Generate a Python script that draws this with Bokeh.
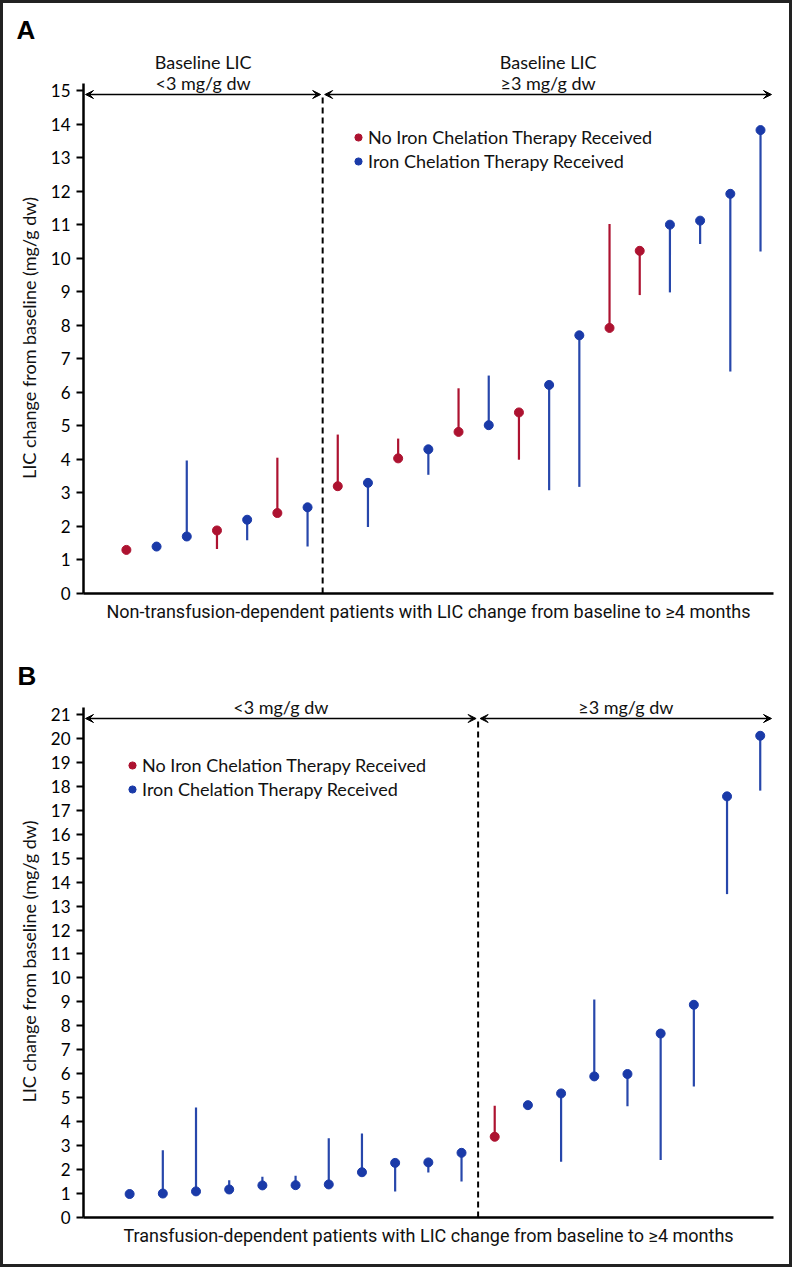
import math
from bokeh.plotting import figure
from bokeh.layouts import column, row
from bokeh.models import (ColumnDataSource, Range1d, Legend, LegendItem, Label,
                          Arrow, VeeHead, FixedTicker)
from bokeh.embed import file_html
from bokeh.resources import INLINE

RED = "#ad1230"
BLUE = "#1a3aa8"
STEM_BLUE = "#2747ab"

# ---------------- Data: Panel A (non-transfusion-dependent) ----------------
a_value = [1.30, 1.40, 1.70, 1.88, 2.20, 2.40, 2.57, 3.20, 3.30, 4.03, 4.30,
           4.82, 5.02, 5.40, 6.22, 7.70, 7.92, 10.22, 11.00, 11.12, 11.92, 13.82]
a_end = [1.30, 1.40, 3.97, 1.33, 1.59, 4.05, 1.40, 4.74, 1.98, 4.62, 3.54,
         6.12, 6.50, 3.99, 3.08, 3.18, 11.02, 8.90, 8.98, 10.42, 6.62, 10.20]
a_treated = [0, 1, 1, 0, 1, 0, 1, 0, 1, 0, 1, 0, 1, 0, 1, 1, 0, 0, 1, 1, 1, 1]
a_n_low = 7  # patients with baseline LIC < 3 mg/g dw

# ---------------- Data: Panel B (transfusion-dependent) ----------------
b_value = [0.98, 1.00, 1.09, 1.17, 1.34, 1.35, 1.38, 1.89, 2.28, 2.30, 2.70,
           3.37, 4.69, 5.18, 5.89, 5.99, 7.68, 8.88, 17.58, 20.11]
b_end = [0.98, 2.81, 4.59, 1.56, 1.70, 1.74, 3.31, 3.51, 1.09, 1.88, 1.50,
         4.66, 4.69, 2.33, 9.10, 4.64, 2.40, 5.47, 13.50, 17.82]
b_treated = [1, 1, 1, 1, 1, 1, 1, 1, 1, 1, 1, 0, 1, 1, 1, 1, 1, 1, 1, 1]
b_n_low = 11

legend_labels = ["No Iron Chelation Therapy Received", "Iron Chelation Therapy Received"]
a_ticks = list(range(0, 16))
b_ticks = list(range(0, 22))
a_headings = ["Baseline LIC\n<3 mg/g dw", "Baseline LIC\n≥3 mg/g dw"]
b_headings = ["<3 mg/g dw", "≥3 mg/g dw"]
a_xlabel = "Non-transfusion-dependent patients with LIC change from baseline to ≥4 months"
b_xlabel = "Transfusion-dependent patients with LIC change from baseline to ≥4 months"
y_label = "LIC change from baseline (mg/g dw)"

FONT = "Lato"
NARROW = "Roboto"
AXIS_PX = 510   # pixel height of the y-axis line
STRIP_W = 40    # left strip holding the panel letter and the y-axis title


def make_strip(letter, height, bt, bb, letter_xy, ylab_xy):
    # strip frame spans the same rows as the panel frame; y measured downward (negated)
    top = -bt
    bottom = -(height - bb)
    s = figure(width=STRIP_W, height=height, output_backend="svg", toolbar_location=None,
               title=None,
               x_range=Range1d(0, STRIP_W), y_range=Range1d(bottom, top),
               x_axis_location=None, y_axis_location=None,
               min_border_left=0, min_border_right=0, min_border_top=bt, min_border_bottom=bb)
    s.outline_line_color = None
    s.xgrid.visible = False
    s.ygrid.visible = False
    s.add_layout(Label(x=letter_xy[0], y=-letter_xy[1], text=letter, text_align="left",
                       text_baseline="alphabetic", text_font="Liberation Sans",
                       text_font_style="bold", text_font_size="26px", text_color="black"))
    s.add_layout(Label(x=ylab_xy[0], y=-ylab_xy[1], text=y_label, angle=math.pi / 2,
                       text_align="center", text_baseline="middle", text_font=FONT,
                       text_font_size="18px", text_color="#111"))
    return s


def make_panel(values, ends, treated, n_low, ticks, headings, xlabel,
               width, height, bl, br, bb, extra, xr, axis_top, legend_loc):
    ppy = AXIS_PX / axis_top
    y_end = axis_top + extra / ppy
    bt = height - bb - AXIS_PX - extra
    p = figure(width=width, height=height, output_backend="svg", toolbar_location=None,
               title=None,
               x_range=Range1d(*xr), y_range=Range1d(0, y_end),
               min_border_left=bl, min_border_top=bt, min_border_right=br, min_border_bottom=bb)
    p.outline_line_color = None
    p.xgrid.visible = False
    p.ygrid.visible = False
    p.background_fill_color = "white"
    p.border_fill_color = "white"

    fw = width - bl - br
    ppx = fw / (xr[1] - xr[0])

    x = list(range(len(values)))
    scols = [STEM_BLUE if t else RED for t in treated]
    src = ColumnDataSource(dict(x=x, v=values, e=ends, sc=scols))
    p.segment(x0="x", y0="v", x1="x", y1="e", line_color="sc", line_width=2.2, source=src)

    rends = []
    for grp in (0, 1):
        idx = [i for i, t in enumerate(treated) if t == grp]
        s = ColumnDataSource(dict(x=[x[i] for i in idx], v=[values[i] for i in idx]))
        r = p.scatter("x", "v", size=9, color=(BLUE if grp else RED), source=s)
        rends.append(r)

    split = n_low - 0.5
    arrow_y = axis_top - 11 / ppy
    p.segment(x0=[split], y0=[0], x1=[split], y1=[arrow_y], line_color="black",
              line_width=2, line_dash="6 4")

    head = dict(size=8, fill_color="black", line_color="black")
    gap = 2 / ppx
    p.add_layout(Arrow(x_start=xr[0] + gap, y_start=arrow_y, x_end=split - gap, y_end=arrow_y,
                       start=VeeHead(**head), end=VeeHead(**head), line_width=1.6))
    p.add_layout(Arrow(x_start=split + gap, y_start=arrow_y, x_end=xr[1] - gap, y_end=arrow_y,
                       start=VeeHead(**head), end=VeeHead(**head), line_width=1.6))

    centers = [(xr[0] + split) / 2, (split + xr[1]) / 2]
    for cx, txt in zip(centers, headings):
        lines = txt.split("\n")
        for k, line in enumerate(reversed(lines)):
            p.add_layout(Label(x=cx, y=axis_top + (1 + 20.5 * k) / ppy, text=line,
                               text_align="center", text_baseline="alphabetic",
                               text_font=FONT, text_font_size="18px", text_color="#111"))

    ya = p.yaxis[0]
    ya.bounds = (0, axis_top)
    ya.ticker = FixedTicker(ticks=ticks)
    ya.minor_tick_line_color = None
    ya.major_tick_out = 7
    ya.major_tick_in = 0
    ya.major_tick_line_width = 2
    ya.axis_line_width = 2.5
    ya.major_label_standoff = 6
    ya.major_label_text_font = FONT
    ya.major_label_text_font_size = "17px"
    ya.major_label_text_color = "black"

    xa = p.xaxis[0]
    xa.ticker = FixedTicker(ticks=[])
    xa.minor_tick_line_color = None
    xa.major_tick_out = 0
    xa.major_tick_in = 0
    xa.major_label_standoff = 0
    xa.axis_line_width = 2.5
    xa.axis_label = xlabel
    xa.axis_label_text_font = NARROW
    xa.axis_label_text_font_size = "18px"
    xa.axis_label_text_font_style = "normal"
    xa.axis_label_text_color = "#111"
    xa.axis_label_standoff = 7

    leg = Legend(items=[LegendItem(label=legend_labels[0], renderers=[rends[0]]),
                        LegendItem(label=legend_labels[1], renderers=[rends[1]])],
                 location=legend_loc, orientation="vertical",
                 glyph_width=18, glyph_height=18, label_standoff=1, spacing=2,
                 padding=0, margin=0, border_line_color=None, background_fill_alpha=0,
                 label_text_font=FONT, label_text_font_size="18px", label_text_color="#111")
    p.add_layout(leg, "center")
    return p, bt


# Panel A: figure covers page rows 3..625, panel B rows 625..1264 (y positions below are
# measured from each figure's top edge)
HA, HB = 622, 639
BB_A, BB_B = 32, 47
pA, btA = make_panel(a_value, a_end, a_treated, a_n_low, a_ticks, a_headings, a_xlabel,
                     786 - STRIP_W, HA, 40, 16, BB_A, 68, (-1.42, 21.43), 15.21, (266, 421))
sA = make_strip("A", HA, btA, BB_A, (13, 26), (25.5, 334.5))
pB, btB = make_panel(b_value, b_end, b_treated, b_n_low, b_ticks, b_headings, b_xlabel,
                     786 - STRIP_W, HB, 40, 16, BB_B, 43, (-1.39, 19.40), 21.29, (40, 417))
sB = make_strip("B", HB, btB, BB_B, (14, 50), (25.5, 336))

layout = column(row(sA, pA, spacing=0), row(sB, pB, spacing=0), spacing=0,
                styles={"border": "3px solid #222"})

open("out.html", "w").write(file_html(layout, INLINE))
